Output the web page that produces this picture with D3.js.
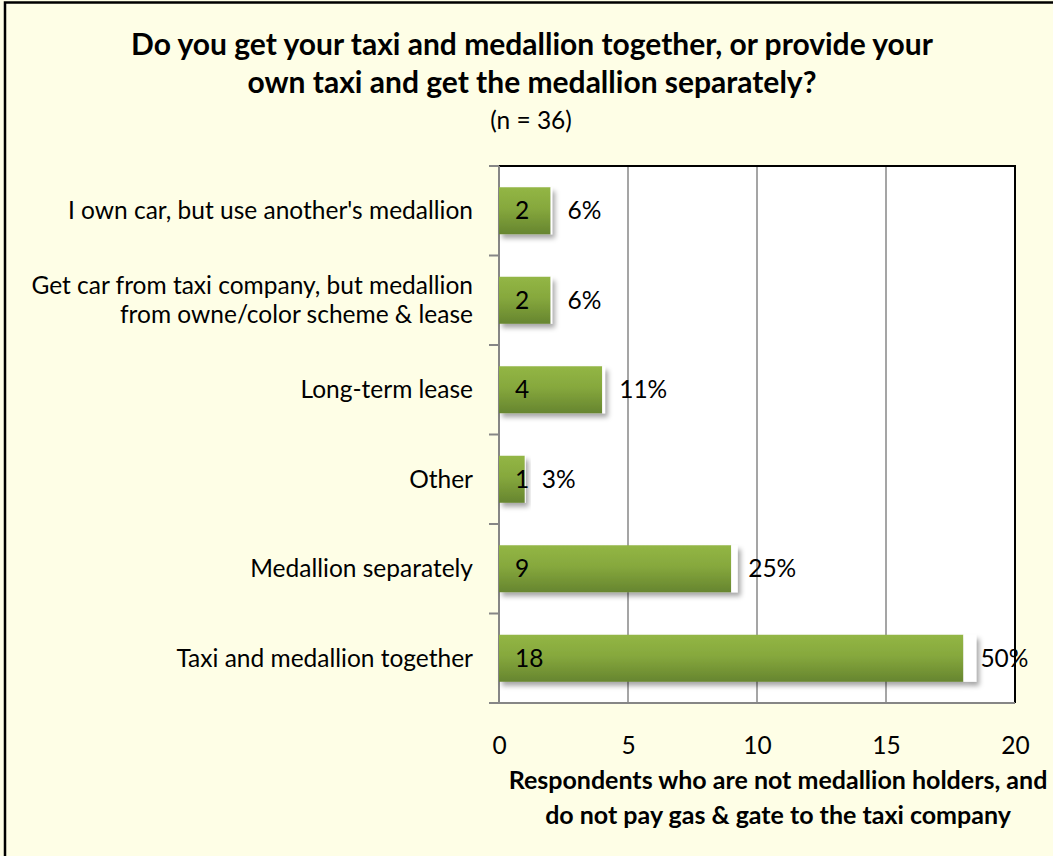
<!DOCTYPE html>
<html>
<head>
<meta charset="utf-8">
<script src="https://cdn.jsdelivr.net/npm/d3@7"></script>
<style>
  html, body { margin: 0; padding: 0; background: #fefee6; }
  svg { display: block; }
  text { font-family: Lato, "Open Sans", sans-serif; fill: #000; }
</style>
</head>
<body>
<svg id="chart" width="1053" height="856"></svg>
<script>
// Survey answers, top to bottom
const categories = [
  "I own car, but use another's medallion",
  "Get car from taxi company, but medallion\nfrom owne/color scheme & lease",
  "Long-term lease",
  "Other",
  "Medallion separately",
  "Taxi and medallion together"
];
const counts = [2, 2, 4, 1, 9, 18];
const shares = [0.06, 0.06, 0.11, 0.03, 0.25, 0.50];
const xTicks = [0, 5, 10, 15, 20];
const titleLines = [
  "Do you get your taxi and medallion together, or provide your",
  "own taxi and get the medallion separately?"
];
const subtitle = "(n = 36)";
const axisTitleLines = [
  "Respondents who are not medallion holders, and",
  "do not pay gas & gate to the taxi company"
];

const W = 1053, H = 856;
const plot = { left: 499, top: 166, right: 1015, bottom: 703 };
const labelSize = "24.5px";

const svg = d3.select("#chart");

const defs = svg.append("defs");
const grad = defs.append("linearGradient")
  .attr("id", "barFill").attr("x1", 0).attr("y1", 0).attr("x2", 0).attr("y2", 1);
grad.append("stop").attr("offset", "0%").attr("stop-color", "#93b645");
grad.append("stop").attr("offset", "45%").attr("stop-color", "#86a83d");
grad.append("stop").attr("offset", "100%").attr("stop-color", "#66852f");

const shadow = defs.append("filter").attr("id", "shadow")
  .attr("x", "-10%").attr("y", "-30%").attr("width", "130%").attr("height", "180%");
shadow.append("feDropShadow")
  .attr("dx", 3).attr("dy", 4).attr("stdDeviation", 2.5)
  .attr("flood-color", "#000").attr("flood-opacity", 0.35);

// Outer frame
svg.append("rect")
  .attr("x", 5).attr("y", 2.5).attr("width", W + 20).attr("height", H + 20)
  .attr("fill", "#fefee6").attr("stroke", "#000").attr("stroke-width", 2.5);

const x = d3.scaleLinear().domain([0, 20]).range([plot.left, plot.right]);
const y = d3.scaleBand().domain(d3.range(categories.length))
  .range([plot.top, plot.bottom]).paddingInner(0.475).paddingOuter(0.2375);

// Plot area
svg.append("rect")
  .attr("x", plot.left).attr("y", plot.top)
  .attr("width", plot.right - plot.left).attr("height", plot.bottom - plot.top)
  .attr("fill", "#fff");

// Vertical gridlines
svg.append("g").selectAll("line").data(xTicks.filter(t => t > 0 && t < 20)).join("line")
  .attr("x1", d => x(d)).attr("x2", d => x(d))
  .attr("y1", plot.top).attr("y2", plot.bottom)
  .attr("stroke", "#878787").attr("stroke-width", 1.5);

// Top and right borders of the plot area
svg.append("path")
  .attr("d", `M${plot.left},${plot.top}H${plot.right}V${plot.bottom}`)
  .attr("fill", "none").attr("stroke", "#000").attr("stroke-width", 2);

// Bottom axis line with value labels
const xAxis = svg.append("g").attr("transform", `translate(0,${plot.bottom})`)
  .call(d3.axisBottom(x).tickValues(xTicks).tickSize(0).tickPadding(0));
xAxis.select(".domain").attr("stroke", "#868686").attr("stroke-width", 2)
  .attr("d", `M${plot.left - 10},0H${plot.right}`);
xAxis.selectAll(".tick text")
  .attr("y", 51).attr("dy", null)
  .style("font-family", "Lato, sans-serif").style("font-size", labelSize).attr("fill", "#000");

// Left axis line with category boundary ticks
const yAxis = svg.append("g").attr("transform", `translate(${plot.left},0)`);
yAxis.append("line").attr("x1", 0).attr("x2", 0).attr("y1", plot.top).attr("y2", plot.bottom)
  .attr("stroke", "#868686").attr("stroke-width", 2);
const step = y.step();
yAxis.selectAll("line.tk").data(d3.range(categories.length + 1)).join("line")
  .attr("class", "tk")
  .attr("x1", -10).attr("x2", 0)
  .attr("y1", i => plot.top + i * step).attr("y2", i => plot.top + i * step)
  .attr("stroke", "#868686").attr("stroke-width", 2);

// Category labels
const catG = svg.append("g");
categories.forEach((c, i) => {
  const lines = c.split("\n");
  const cy = y(i) + y.bandwidth() / 2;
  const lh = 29;
  lines.forEach((ln, j) => {
    catG.append("text")
      .attr("text-anchor", "end").style("font-size", labelSize)
      .attr("x", 473)
      .attr("y", cy + 8.5 + (j - (lines.length - 1) / 2) * lh)
      .text(ln);
  });
});

// Bars: counts plus a stacked white segment for the share
const bars = svg.append("g").selectAll("g").data(counts).join("g")
  .attr("filter", "url(#shadow)");
bars.append("rect")
  .attr("x", x(0)).attr("y", (d, i) => y(i))
  .attr("width", d => x(d) - x(0)).attr("height", y.bandwidth())
  .attr("fill", "url(#barFill)");
bars.append("rect")
  .attr("x", d => x(d)).attr("y", (d, i) => y(i))
  .attr("width", (d, i) => x(d + shares[i]) - x(d)).attr("height", y.bandwidth())
  .attr("fill", "#fff");

// Count labels inside the bars
svg.append("g").selectAll("text").data(counts).join("text")
  .attr("x", x(0) + 16).attr("y", (d, i) => y(i) + y.bandwidth() / 2 + 8.5)
  .style("font-size", labelSize).text(d => d);

// Share labels after the bars
svg.append("g").selectAll("text").data(shares).join("text")
  .attr("x", (d, i) => x(counts[i]) + 17).attr("y", (d, i) => y(i) + y.bandwidth() / 2 + 8.5)
  .style("font-size", labelSize).text(d => d3.format(".0%")(d));

// Title
titleLines.forEach((ln, j) => {
  svg.append("text").attr("x", 532).attr("y", 55 + j * 38)
    .attr("text-anchor", "middle").style("font-size", "30px").style("font-weight", "bold")
    .text(ln);
});
svg.append("text").attr("x", 531).attr("y", 129)
  .attr("text-anchor", "middle").style("font-size", labelSize).text(subtitle);

// Horizontal axis title
axisTitleLines.forEach((ln, j) => {
  svg.append("text").attr("x", 778).attr("y", 789 + j * 35)
    .attr("text-anchor", "middle").style("font-size", "25px").style("font-weight", "bold")
    .text(ln);
});
</script>
</body>
</html>
